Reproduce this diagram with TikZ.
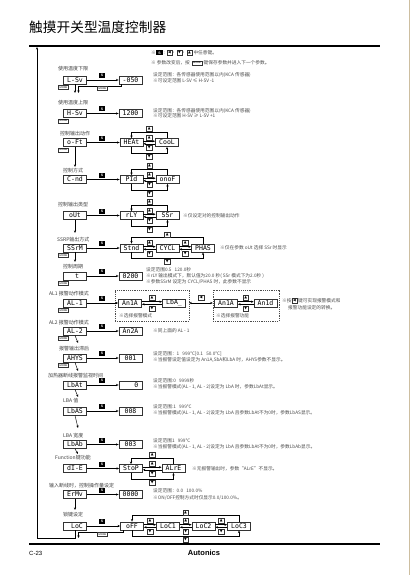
\documentclass[tikz,border=0pt]{standalone}
\usepackage{fontspec}
\setmainfont{Noto Sans CJK SC}
\newfontfamily\symfont{DejaVu Sans}
\newfontfamily\dispfont{DejaVu Sans Mono}
\newfontfamily\latfont{Liberation Sans}
\usetikzlibrary{arrows.meta,calc}
\newcommand{\pairarrows}[2]{%
 \draw[arr] ([yshift=1.3pt]#1.east) -- ([yshift=1.3pt]#2.west);
 \draw[arr] ([yshift=-1.3pt]#2.west) -- ([yshift=-1.3pt]#1.east);
 \node[key] at ($(#1.east)!0.5!(#2.west)+(0,-5.2)$) {▲};
 \node[key] at ($(#1.east)!0.5!(#2.west)+(0,5.2)$) {▼};}
\newcommand{\wraploop}[2]{%
 \draw[arr] (#2.north) -- ++(0,-6) -| (#1.north);
 \draw[arr] (#1.south) -- ++(0,6) -| (#2.south);
 \node[key] at ($(#1.north)!0.5!(#2.north)+(0,-9.4)$) {▲};
 \node[key] at ($(#1.south)!0.5!(#2.south)+(0,9.4)$) {▼};}
\begin{document}
\begin{tikzpicture}[x=1pt,y=-1pt,
  disp/.style={draw=black!80, line width=0.8pt, minimum width=23pt, minimum height=8pt, inner sep=0pt, font=\dispfont\fontsize{6.5}{6.5}\selectfont},
  lbl/.style={anchor=west, inner sep=0pt, font=\fontsize{5}{5}\selectfont, text=black!75},
  note/.style={anchor=west, inner sep=0pt, font=\fontsize{4.7}{6}\selectfont, text=black!70},
  skey/.style={fill=black, minimum width=6.5pt, minimum height=5pt, inner sep=0pt, text=white, font=\latfont\bfseries\fontsize{3.5}{3.5}\selectfont},
  key/.style={draw=black!80, fill=white, line width=0.3pt, minimum width=5.5pt, minimum height=5pt, inner sep=0pt, font=\symfont\fontsize{3.6}{3.6}\selectfont},
  modek/.style={draw=black!80, line width=0.3pt, minimum width=10pt, minimum height=4pt, inner sep=0pt, font=\latfont\fontsize{2.6}{2.6}\selectfont},
  arr/.style={-{Stealth[length=2.6pt,width=2.2pt]}, line width=0.45pt},
  ln/.style={line width=0.45pt},
  dbox/.style={draw=black!70, line width=0.4pt, dash pattern=on 1.2pt off 1pt, inner sep=0pt},
]
\fill[white] (0,0) rectangle (410,575);
\useasboundingbox (0,0) rectangle (410,575);
\draw[color={rgb,255:red,205;green,190;blue,160}, line width=0.8pt] (409.5,0) -- (409.5,575);

% title
\node[anchor=west, inner sep=0pt, font=\fontsize{13.7}{14}\selectfont] (title) at (29,27) {触摸开关型温度控制器};
\draw[line width=2.4pt] (29,46) -- (380,46);

% header notes
\node[note] (h1) at (151,53) {※};
\node[skey] (hs) at (159.5,53) {S};
\node[note] (h2) at (163.5,53) {:};
\node[key] (hk1) at (169.5,53) {◀};
\node[note] (h3) at (172.8,53) {,};
\node[key] (hk2) at (179.5,53) {▼};
\node[note] (h4) at (182.8,53) {,};
\node[key] (hk3) at (189.5,53) {▲};
\node[note] (h5) at (193.3,53) {中任意键。};
\node[note] (h6) at (151,63) {※ 参数改变后，按};
\node[modek] (hm) at (197,63) {MODE};
\node[note] (h7) at (203.5,63) {键保存参数并进入下一个参数。};

% row 1
\node[lbl] (l1) at (58,69) {使用温度下限};
\node[disp] (lsv) at (75,80) {L-Sv};
\node[modek] (m1) at (63.5,87.5) {MODE};
\node[skey] (s1) at (102,75.5) {S};
\node[disp] (v1) at (130.5,80) {-050};
\draw[arr] (lsv) -- (v1);
\draw[arr] (lsv.south) -- (75,93);
\draw[arr] ($(v1.south west)+(3,0)$) -- ++(0,1.8) -| (78.5,93);
\node[modek] (m1b) at (102.5,88.3) {MODE};
\node[note] (n1a) at (153,75) {设定范围：各传感器使用范围以内(KCA 传感器)};
\node[note] (n1b) at (153,80.5) {※可设定范围 L-SV ≤ H-SV -1};

% row 2
\node[lbl] (l2) at (58,103) {使用温度上限};
\node[disp] (hsv) at (75,113.5) {H-Sv};
\node[modek] (m2) at (63.5,121) {MODE};
\node[skey] (s2) at (102,109) {S};
\node[disp] (v2) at (130.5,113.5) {1200};
\draw[arr] (hsv) -- (v2);
\node[note] (n2a) at (153,110.5) {设定范围：各传感器使用范围以内(KCA 传感器)};
\node[note] (n2b) at (153,116) {※可设定范围 H-SV ≥ L-SV +1};

% row 3
\node[lbl] (l3) at (60,134) {控制输出动作};
\node[disp] (oft) at (75,142.5) {o-Ft};
\node[modek] (m3) at (63.5,150) {MODE};
\node[skey] (s3) at (102,138) {S};
\node[disp] (heat) at (131.5,142.5) {HEAt};
\node[disp] (cool) at (167,142.5) {CooL};
\draw[arr] (oft) -- (heat);
\pairarrows{heat}{cool}
\wraploop{heat}{cool}
\draw[arr] (oft.south) -- (75,167);

% row 4
\node[lbl] (l4) at (63,171) {控制方式};
\node[disp] (cnd) at (75,179.5) {C-nd};
\node[skey] (s4) at (102,175) {S};
\node[disp] (pid) at (131.5,179.5) {PId};
\node[disp] (onof) at (167.5,179.5) {onoF};
\draw[arr] (cnd) -- (pid);
\pairarrows{pid}{onof}
\wraploop{pid}{onof}

% row 5
\node[lbl] (l5) at (58,205) {控制输出类型};
\node[disp] (out) at (75,215.5) {oUt};
\node[skey] (s5) at (102,211) {S};
\node[disp] (rly) at (131.5,215.5) {rLY};
\node[disp] (ssr) at (167.5,215.5) {SSr};
\draw[arr] (out) -- (rly);
\pairarrows{rly}{ssr}
\wraploop{rly}{ssr}
\draw[arr] (out.south) -- (75,233);
\node[note] (n5) at (183,215.5) {※仅设定对的控制输出动作};

% row 6
\node[lbl] (l6) at (57,240) {SSRP输出方式};
\node[disp] (ssrm) at (75,248) {SSrM};
\node[modek] (m6) at (63.5,255.5) {MODE};
\node[skey] (s6) at (102,243.5) {S};
\node[disp] (stnd) at (131.5,248) {Stnd};
\node[disp] (cycl) at (167.5,248) {CYCL};
\node[disp] (phas) at (203,248) {PHAS};
\draw[arr] (ssrm) -- (stnd);
\pairarrows{stnd}{cycl}
\pairarrows{cycl}{phas}
\wraploop{stnd}{phas}
\draw[arr] (ssrm.south) -- (75,262);
\node[note] (n6) at (220,248) {※仅在参数 oUt 选择 SSr 时显示};

% row 7
\node[lbl] (l7) at (63,267) {控制周期};
\node[disp] (tt) at (75,276) {\phantom{00}t\phantom{0}};
\node[modek] (m7) at (63.5,283.5) {MODE};
\node[skey] (s7) at (102,271.5) {S};
\node[disp] (v7) at (130.5,276) {0200};
\draw[arr] (tt) -- (v7);
\node[note] (n7a) at (146,269.5) {设定范围0.5 ~ 120.0秒};
\node[note] (n7b) at (146,275.5) {※rLY 输出模式下，默认值为20.0 秒( SSr 模式下为2.0秒 )};
\node[note] (n7c) at (146,281.5) {※参数SSrM 设定为 CYCL/PHAS 时，此参数不显示};

% row 8
\node[lbl] (l8) at (49,294) {AL1 报警动作模式};
\node[disp] (al1) at (75,303) {AL-1};
\node[modek] (m8) at (63.5,310.5) {MODE};
\node[skey] (s8) at (102,298.5) {S};
\node[dbox, minimum width=74pt, minimum height=31pt] (g1) at (152,305.5) {};
\node[dbox, minimum width=66pt, minimum height=31pt] (g2) at (246,305.5) {};
\node[disp] (ania) at (130,303) {An1A};
\node[disp] (lba) at (174,303) {LbA\_};
\node[disp] (ania2) at (226,303) {An1A};
\node[disp] (anid) at (265.5,303) {An1d};
\draw[arr] (al1) -- (ania);
\pairarrows{ania}{lba}
\pairarrows{ania2}{anid}
\node[note] (n8a) at (119,316) {※选择报警模式};
\node[note] (n8b) at (216,316) {※选择报警功能};
\draw[{Stealth[length=2.6pt,width=2.2pt]}-{Stealth[length=2.6pt,width=2.2pt]}, line width=0.45pt] (g1.east |- lba.east) -- (g2.west |- lba.east);
\node[key] (k8) at (201,297.5) {◀};
\node[note] (n8c) at (282,301) {※按};
\node[key] (k8b) at (294.5,301) {◀};
\node[note] (n8d) at (298,301) {键可实现报警模式和};
\node[note] (n8e) at (288,307.5) {报警功能设定的转换。};

% row 9
\node[lbl] (l9) at (49,323) {AL2 报警动作模式};
\node[disp] (al2) at (75,331) {AL-2};
\node[modek] (m9) at (63.5,338.5) {MODE};
\node[skey] (s9) at (102,326.5) {S};
\node[disp] (v9) at (130.5,331) {An2A};
\draw[arr] (al2) -- (v9);
\draw[arr] (al2.south) -- (78,343);
\node[note] (n9) at (153,331) {※同上面的 AL - 1};

% row 10
\node[lbl] (l10) at (59,349) {报警输出滞后};
\node[disp] (ahys) at (75,358) {AHYS};
\node[modek] (m10) at (63.5,365.5) {MODE};
\node[skey] (s10) at (102,353.5) {S};
\node[disp] (v10) at (130.5,358) {001};
\draw[arr] (ahys) -- (v10);
\draw[arr] (ahys.south) -- (78,371);
\node[note] (n10a) at (153,353.5) {设定范围：1 ~ 999℃[0.1 ~ 50.0℃]};
\node[note] (n10b) at (153,359.5) {※当报警设定值设定为 An1A,SbA和LbA 时，AHYS参数不显示。};

% row 11
\node[lbl] (l11) at (48,376) {加热器断线报警监视时间};
\node[disp] (lbat) at (75,385) {LbAt};
\node[skey] (s11) at (102,380.5) {S};
\node[disp] (v11) at (130.5,385) {\phantom{000}0};
\draw[arr] (lbat) -- (v11);
\draw[arr] (lbat.south) -- (78,397);
\node[note] (n11a) at (153,381) {设定范围:0 ~ 9999秒};
\node[note] (n11b) at (153,387) {※当报警模式(AL - 1, AL - 2)设定为 LbA 时，参数LbAt显示。};

% row 12
\node[lbl] (l12) at (63,401) {LBA 值};
\node[disp] (lbas) at (75,411) {LbAS};
\node[skey] (s12) at (102,406.5) {S};
\node[disp] (v12) at (130.5,411) {008};
\draw[arr] (lbas) -- (v12);
\draw[arr] (lbas.south) -- (78,428);
\node[note] (n12a) at (153,407) {设定范围:1 ~ 999℃};
\node[note] (n12b) at (153,413) {※当报警模式(AL - 1, AL - 2)设定为 LbA 且参数LbAt不为0时，参数LbAS显示。};

% row 13
\node[lbl] (l13) at (63,436) {LBA 宽度};
\node[disp] (lbab) at (75,444.5) {LbAb};
\node[skey] (s13) at (102,440) {S};
\node[disp] (v13) at (130.5,444.5) {003};
\draw[arr] (lbab) -- (v13);
\draw[arr] (lbab.south) -- (78,454);
\node[note] (n13a) at (153,440.5) {设定范围1 ~ 999℃};
\node[note] (n13b) at (153,446.5) {※当报警模式(AL - 1, AL - 2)设定为 LbA 且参数LbAt不为0时，参数LbAb显示。};

% row 14
\node[lbl] (l14) at (55,458) {Function键功能};
\node[disp] (die) at (75,468.5) {dI-E};
\node[skey] (s14) at (102,464) {S};
\node[disp] (stop) at (131,468.5) {StoP};
\node[disp] (alre) at (173.5,468.5) {ALrE};
\draw[arr] (die) -- (stop);
\pairarrows{stop}{alre}
\wraploop{stop}{alre}
\node[note] (n14) at (192,468.5) {※无报警输出时，参数“ALrE”不显示。};

% row 15
\node[lbl] (l15) at (49,486) {输入断线时，控制操作量设定};
\node[disp] (ermv) at (75,494.5) {ErMv};
\node[skey] (s15) at (102,490) {S};
\node[disp] (v15) at (130.5,494.5) {0000};
\draw[arr] (ermv) -- (v15);
\draw[arr] (ermv.south) -- (75,510);
\node[note] (n15a) at (153,491) {设定范围：0.0 ~ 100.0\%};
\node[note] (n15b) at (153,497.5) {※ON/OFF控制方式时仅显示0.0/100.0\%。};

% row 16
\node[lbl] (l16) at (63,515) {锁键设定};
\node[disp] (loc) at (75,526) {\phantom{0}LoC};
\node[skey] (s16) at (102,521.5) {S};
\node[disp] (off) at (132,526) {oFF};
\node[disp] (loc1) at (168,526) {LoC1};
\node[disp] (loc2) at (203.5,526) {LoC2};
\node[disp] (loc3) at (239,526) {LoC3};
\draw[arr] (loc) -- (off);
\pairarrows{off}{loc1}
\pairarrows{loc1}{loc2}
\pairarrows{loc2}{loc3}
\wraploop{off}{loc3}
\coordinate (rb) at (37,538);
\coordinate (rt) at (37,47);
\draw[arr] (loc.south) -- (75,538) -- (rb) -- (rt);
\draw[arr] ($(off.south west)+(3,0)$) -- ++(0,2) -| (78.5,538);
\node[modek] (m16) at (102.5,534.5) {MODE};

% footer
\draw[line width=2.4pt] (29,544) -- (380,544);
\node[anchor=west, inner sep=0pt, font=\latfont\fontsize{6}{6}\selectfont] (pg) at (29,553) {C-23};
\node[inner sep=0pt, font=\latfont\bfseries\fontsize{7.5}{7.5}\selectfont] (logo) at (204,552.5) {Autonics};
\end{tikzpicture}
\end{document}
